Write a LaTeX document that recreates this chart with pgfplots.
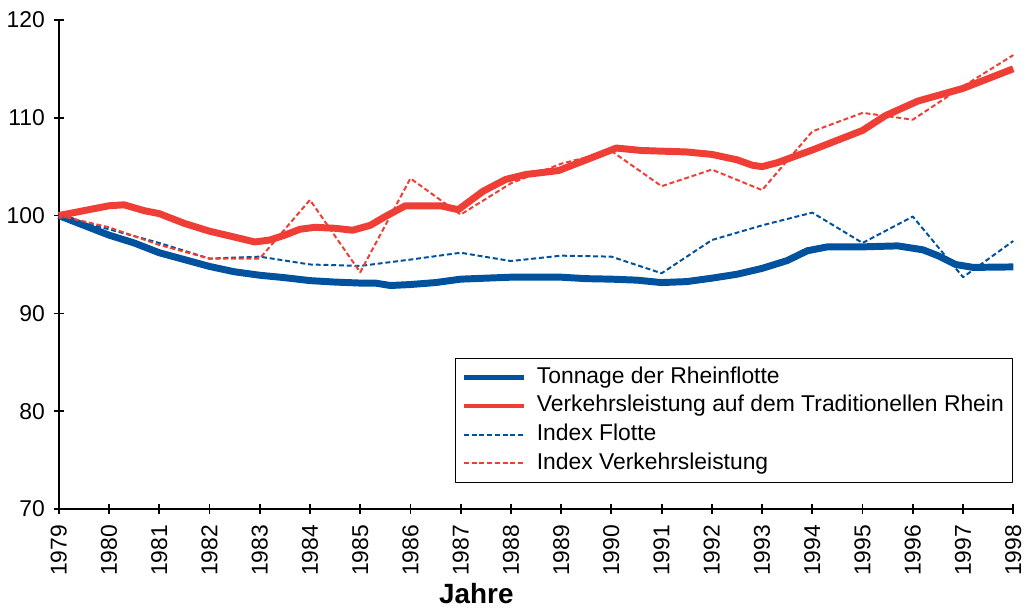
\documentclass[border=0pt]{standalone}
\usepackage{fontspec}
\setmainfont{Liberation Sans}
\usepackage{pgfplots}
\pgfplotsset{compat=1.18}
\definecolor{blau}{HTML}{00529F}
\definecolor{rot}{HTML}{EF3E36}

\begin{document}
\begin{tikzpicture}
\begin{axis}[
    width=480pt, height=246pt,
    scale only axis,
    xmin=1979, xmax=1998,
    ymin=70, ymax=120,
    axis lines=left,
    axis line style={-, line width=1.2pt},
    xtick={1979,1980,...,1998},
    ytick={70,80,...,120},
    tick align=center,
    major tick length=5pt,
    tick style={black, line width=0.9pt},
    /pgf/number format/assume math mode=true,
    /pgf/number format/1000 sep={},
    tick label style={font=\fontsize{11.5}{13}\selectfont},
    xticklabel style={rotate=90, anchor=east, xshift=-2pt},
    yticklabel style={xshift=-1pt},
    xlabel={\textbf{Jahre}},
    xlabel style={font=\fontsize{14}{16}\selectfont, at={(axis description cs:0.4375,-0.15)}, anchor=north, inner sep=0pt},
    clip=false,
    line join=round,
    legend cell align=left,
    legend style={at={(rel axis cs:1,0.309)}, anchor=north east, draw=black, line width=0.5pt,
        fill=white, font=\fontsize{11.5}{13}\selectfont, row sep=1.4pt,
        inner xsep=3pt, inner ysep=3pt,
        nodes={inner sep=1.5pt, text height=8pt, text depth=2pt}},
    legend image code/.code={\draw[#1] (0pt,0pt) -- (30pt,0pt); \path (34pt,0pt);},
]
\addplot[blau, line width=3.5pt, legend image post style={line width=2.4pt}] coordinates {
 (1979,100.0) (1979.5,99.0) (1980,98.0) (1980.5,97.2) (1981,96.2) (1981.5,95.5)
 (1982,94.8) (1982.5,94.25) (1983,93.9) (1983.5,93.65) (1984,93.35) (1984.5,93.2)
 (1985,93.1) (1985.3,93.1) (1985.6,92.85) (1986,92.95) (1986.5,93.15) (1987,93.5)
 (1987.5,93.6) (1988,93.7) (1988.5,93.7) (1989,93.7) (1989.5,93.55) (1990,93.5)
 (1990.5,93.4) (1991,93.15) (1991.5,93.25) (1992,93.6) (1992.5,94.0) (1993,94.6)
 (1993.5,95.4) (1993.9,96.4) (1994.3,96.8) (1995,96.8) (1995.7,96.9) (1996.2,96.5)
 (1996.5,95.9) (1996.85,95.0) (1997.2,94.7) (1998,94.75)
};
\addplot[rot, line width=3.5pt, legend image post style={line width=2.4pt}] coordinates {
 (1979,100.0) (1979.5,100.5) (1980,101.0) (1980.3,101.1) (1980.7,100.5) (1981,100.2)
 (1981.5,99.2) (1982,98.4) (1982.5,97.8) (1982.9,97.3) (1983.2,97.5) (1983.5,98.0)
 (1983.8,98.6) (1984.1,98.8) (1984.5,98.7) (1984.85,98.5) (1985.2,99.0) (1985.5,99.9)
 (1985.9,101.0) (1986.6,101.0) (1986.95,100.6) (1987.45,102.5) (1987.9,103.7)
 (1988.3,104.2) (1988.95,104.6) (1989.5,105.7) (1990.1,106.9) (1990.6,106.65)
 (1991.5,106.5) (1992,106.25) (1992.5,105.7) (1992.8,105.15) (1993.0,105.0)
 (1993.3,105.4) (1994,106.7) (1995,108.7) (1995.45,110.2) (1996.1,111.7)
 (1997,113.0) (1998,115.0)
};
\addplot[blau, line width=1pt, dash pattern=on 2.5pt off 1.4pt] coordinates {
 (1979,100) (1980,98.6) (1981,97.2) (1982,95.6) (1983,95.8) (1984,95.0) (1985,94.85)
 (1986,95.5) (1987,96.2) (1988,95.35) (1989,95.9) (1990,95.8) (1991,94.1) (1992,97.5)
 (1993,99.0) (1994,100.3) (1995,97.2) (1996,99.9) (1997,93.7) (1998,97.4)
};
\addplot[rot, line width=1pt, dash pattern=on 2.5pt off 1.4pt] coordinates {
 (1979,100) (1980,98.8) (1981,97.0) (1982,95.6) (1983,95.6) (1984,101.6) (1985,94.2)
 (1986,103.8) (1987,100.1) (1988,103.3) (1989,105.3) (1990,106.6) (1991,103.0)
 (1992,104.7) (1993,102.6) (1994,108.6) (1995,110.5) (1996,109.8) (1997,113.2) (1998,116.4)
};
\legend{Tonnage der Rheinflotte, Verkehrsleistung auf dem Traditionellen Rhein, Index Flotte, Index Verkehrsleistung}
\coordinate (ll) at (rel axis cs:0,0);
\coordinate (ur) at (rel axis cs:1,1);
\end{axis}
\path ([shift={(-28.5pt,-51pt)}]ll) rectangle ([shift={(5.5pt,10pt)}]ur);
\end{tikzpicture}
\end{document}
